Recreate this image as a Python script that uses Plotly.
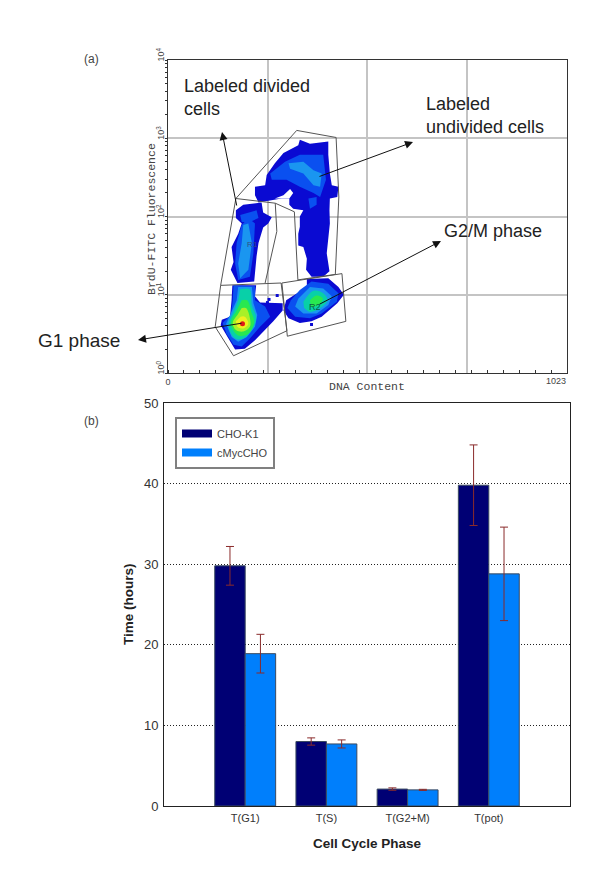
import plotly.graph_objects as go

W, H = 600, 893

# panel (b) values
phases = ["T(G1)", "T(S)", "T(G2+M)", "T(pot)"]
cho_k1 = [29.8, 8.0, 2.1, 39.8]
cho_k1_err = [2.4, 0.45, 0.15, 5.0]
cmyc = [18.9, 7.7, 2.0, 28.8]
cmyc_err = [2.4, 0.5, 0.07, 5.8]

# panel (a) gates: DNA channel, log10 BrdU fluorescence
gate_g1 = ([135, 290, 305, 168, 121, 135], [1.12, 1.15, 0.54, 0.22, 0.59, 1.12])
gate_g2 = ([292, 446, 456, 306, 292], [1.15, 1.27, 0.66, 0.47, 1.15])
gate_div = ([135, 174, 275, 279, 249], [1.12, 2.23, 2.17, 1.81, 1.15])
gate_undiv = ([174, 330, 431, 438, 429, 333, 324, 275],
              [2.23, 3.10, 3.01, 2.25, 1.26, 1.19, 2.06, 2.17])

# panel (a) density contours, from the lowest level up
level1 = [
    ([223, 249, 253, 274, 296, 321, 334, 338, 364, 411, 411, 415, 420, 437, 434, 415, 414, 415, 411, 407, 414, 398, 368, 354, 356, 347, 334, 334, 338, 338, 347, 321, 311, 311, 291, 266, 232, 223],
     [2.38, 2.40, 2.53, 2.68, 2.81, 2.87, 2.91, 2.98, 2.93, 2.96, 2.79, 2.55, 2.40, 2.38, 2.25, 2.23, 2.08, 1.91, 1.70, 1.53, 1.30, 1.23, 1.23, 1.32, 1.46, 1.61, 1.63, 1.78, 1.87, 2.00, 2.08, 2.10, 2.15, 2.23, 2.23, 2.21, 2.18, 2.27]),
    ([174, 193, 240, 244, 266, 257, 244, 232, 227, 221, 178, 161, 168, 163, 180, 189, 174],
     [2.08, 2.15, 2.18, 2.05, 1.99, 1.91, 1.86, 1.66, 1.49, 1.17, 1.15, 1.32, 1.42, 1.61, 1.78, 1.91, 1.98]),
    ([165, 226, 223, 236, 294, 294, 270, 249, 223, 197, 172, 155, 135, 138, 159, 163],
     [1.12, 1.12, 0.98, 0.90, 0.89, 0.80, 0.66, 0.55, 0.42, 0.31, 0.30, 0.44, 0.61, 0.68, 0.72, 0.93]),
    ([356, 411, 437, 451, 434, 394, 368, 338, 309, 296, 303, 330, 356],
     [1.20, 1.21, 1.10, 1.00, 0.89, 0.72, 0.66, 0.64, 0.70, 0.80, 0.93, 1.02, 1.10]),
]
holes = [
    ([274, 296, 313, 321, 311], [2.23, 2.27, 2.35, 2.30, 2.23]),
]
level2 = [
    ([262, 300, 338, 398, 405, 390, 373, 338, 304, 266],
     [2.55, 2.70, 2.79, 2.79, 2.47, 2.25, 2.30, 2.38, 2.47, 2.47]),
    ([189, 206, 223, 219, 210, 180, 172, 176],
     [1.89, 1.98, 1.91, 1.53, 1.23, 1.19, 1.40, 1.66]),
    ([185, 227, 232, 210, 189], [2.02, 2.08, 1.98, 1.93, 1.93]),
    ([168, 223, 223, 249, 262, 236, 210, 189, 168, 150, 140, 161, 166],
     [1.12, 1.11, 0.93, 0.85, 0.72, 0.59, 0.44, 0.34, 0.36, 0.50, 0.64, 0.74, 0.93]),
    ([338, 368, 411, 437, 433, 394, 364, 326, 306, 315],
     [1.06, 1.17, 1.14, 1.02, 0.91, 0.76, 0.70, 0.72, 0.83, 0.93]),
    ([360, 381, 381, 364], [2.23, 2.25, 2.15, 2.10]),
]
level3 = [
    ([309, 347, 373, 394, 390, 373, 347, 313],
     [2.68, 2.70, 2.59, 2.55, 2.38, 2.40, 2.55, 2.61]),
    ([193, 206, 215, 206, 185, 180, 189],
     [1.89, 1.91, 1.66, 1.32, 1.21, 1.40, 1.66]),
    ([180, 215, 219, 229, 223, 202, 180, 163, 149, 163, 176],
     [1.10, 1.10, 0.89, 0.74, 0.59, 0.46, 0.40, 0.46, 0.63, 0.78, 0.93]),
    ([334, 364, 398, 420, 411, 381, 347, 326],
     [0.95, 1.10, 1.08, 0.98, 0.87, 0.76, 0.76, 0.85]),
]
level4 = [
    ([185, 209, 215, 226, 215, 193, 172, 155, 168, 180],
     [1.07, 1.07, 0.87, 0.70, 0.55, 0.44, 0.44, 0.61, 0.78, 0.93]),
    ([347, 373, 398, 409, 390, 364, 349], [0.91, 1.05, 1.02, 0.93, 0.83, 0.78, 0.83]),
]
level5 = [
    ([189, 203, 215, 221, 206, 180, 161, 174], [0.93, 0.93, 0.76, 0.66, 0.50, 0.48, 0.63, 0.78]),
    ([364, 381, 397, 386, 366], [0.93, 0.99, 0.95, 0.87, 0.84]),
]
level6 = [([189, 200, 210, 210, 193, 174, 166, 178], [0.83, 0.83, 0.70, 0.59, 0.53, 0.55, 0.64, 0.74])]
level7 = [([186, 197, 206, 193, 178, 174], [0.72, 0.72, 0.63, 0.57, 0.59, 0.66])]
peak = ([191], [0.63])
specks = ([259, 280, 368, 255], [0.94, 0.99, 0.62, 0.90])

levels = [
    (level1, "#0a0ad2", "linear"), (holes, "white", "linear"), (level2, "#0a50f0", "linear"),
    (level3, "#1a96f0", "linear"), (level4, "#08d0a8", "spline"), (level5, "#28e850", "spline"),
    (level6, "#a8f028", "spline"), (level7, "#f0f020", "spline"),
]


def px(x):
    return x / W


def py(y):
    return 1 - y / H


def dec(vals):
    return [10 ** v for v in vals]


fig = go.Figure()

for polys, color, shape in levels:
    for xs, ys in polys:
        fig.add_trace(go.Scatter(
            x=xs, y=dec(ys), mode="lines", fill="toself", fillcolor=color,
            line=dict(width=0, shape=shape), showlegend=False,
            hoverinfo="skip", xaxis="x", yaxis="y",
        ))

fig.add_trace(go.Scatter(
    x=specks[0], y=dec(specks[1]), mode="markers", showlegend=False, hoverinfo="skip",
    marker=dict(symbol="square", size=3, color="#0a0ad2"), xaxis="x", yaxis="y",
))
fig.add_trace(go.Scatter(
    x=peak[0], y=dec(peak[1]), mode="markers", showlegend=False, hoverinfo="skip",
    marker=dict(size=5, color="#e01818"), xaxis="x", yaxis="y",
))

for xs, ys in [gate_g1, gate_g2, gate_div, gate_undiv]:
    fig.add_trace(go.Scatter(
        x=xs, y=dec(ys), mode="lines", line=dict(color="#555555", width=1),
        showlegend=False, hoverinfo="skip", xaxis="x", yaxis="y",
    ))

for name, vals, errs, color in [("CHO-K1", cho_k1, cho_k1_err, "#000074"),
                                ("cMycCHO", cmyc, cmyc_err, "#007ffc")]:
    fig.add_trace(go.Bar(
        x=phases, y=vals, name=name, xaxis="x2", yaxis="y2", showlegend=False,
        marker=dict(color=color, line=dict(color="#3a4a60", width=1)),
        error_y=dict(type="data", array=errs, color="#8a2b2b", thickness=1, width=4),
    ))
    # wide flat legend swatch
    fig.add_trace(go.Scatter(
        x=[None], y=[None], name=name, mode="lines", xaxis="x2", yaxis="y2",
        line=dict(color=color, width=8),
    ))

fig.update_layout(
    width=W, height=H, margin=dict(l=0, r=0, t=0, b=0),
    paper_bgcolor="white", plot_bgcolor="white",
    font=dict(family="Liberation Sans", color="#333333"),
    barmode="group", bargap=0.25, bargroupgap=0,
    xaxis=dict(
        domain=[px(168), px(567)], range=[0, 1023], anchor="y", automargin=False,
        tickvals=[0, 256, 511, 767, 1023], ticktext=["0", "", "", "", ""],
        tickfont=dict(size=9, color="#444444"),
        ticks="", showgrid=True, gridcolor="#c4c4c4", gridwidth=1.5, zeroline=False,
        showline=True, linecolor="#333333", linewidth=1, mirror=True,
        minor=dict(tickvals=list(range(0, 1023, 41)), ticks="inside", ticklen=3,
                   tickcolor="#333333", showgrid=False),
    ),
    yaxis=dict(
        domain=[py(373), py(60)], type="log", range=[0, 4], anchor="x", automargin=False,
        tickvals=[1, 10, 100, 1000, 10000],
        ticktext=["10<sup>0</sup>", "10<sup>1</sup>", "10<sup>2</sup>", "10<sup>3</sup>", "10<sup>4</sup>"],
        tickangle=-90, tickfont=dict(size=9, color="#444444"), ticklabelshift=-4, ticklabelstandoff=-3,
        ticks="outside", ticklen=2, tickcolor="#333333",
        showgrid=True, gridcolor="#c4c4c4", gridwidth=1.5, zeroline=False,
        showline=True, linecolor="#333333", linewidth=1, mirror=True,
        minor=dict(dtick="D1", ticks="outside", ticklen=2, tickcolor="#333333", showgrid=False),
    ),
    xaxis2=dict(
        domain=[px(164), px(570)], range=[-1, 4], anchor="y2", automargin=False,
        type="category", categoryorder="array", categoryarray=phases,
        tickfont=dict(size=11, color="#333333"),
        ticks="outside", ticklen=2, tickcolor="white", showgrid=False,
        showline=True, linecolor="#222222", linewidth=1, mirror=True,
        title=dict(text="<b>Cell Cycle Phase</b>", font=dict(size=13.5, color="#222222")),
    ),
    yaxis2=dict(
        domain=[py(806), py(403)], range=[0, 50], anchor="x2", dtick=10, automargin=False,
        tickfont=dict(size=13, color="#333333"),
        ticks="outside", ticklen=2, tickcolor="white", zeroline=False,
        showgrid=True, griddash="1px,2px", gridcolor="#222222", gridwidth=1,
        showline=True, linecolor="#222222", linewidth=1, mirror=True,
    ),
    legend=dict(
        x=px(175), y=py(417), xanchor="left", yanchor="top",
        bgcolor="white", bordercolor="#808080", borderwidth=2,
        font=dict(size=11, color="#444444"), itemclick=False, itemdoubleclick=False,
    ),
)

# plain text labels of the figure
notes = [
    ("(a)", 82, 59, 12, "#444444"),
    ("(b)", 82, 421, 12, "#444444"),
    ("Labeled divided<br>cells", 182.5, 97, 18, "#222222"),
    ("Labeled<br>undivided cells", 424, 115, 18, "#222222"),
    ("G2/M phase", 442, 231, 18, "#222222"),
    ("G1 phase", 36, 340, 19, "#222222"),
    ("R2", 307, 307, 9, "#0a5a40"),
    ("R1", 245, 244, 8, "#305080"),
]
for text, x, y, size, color in notes:
    fig.add_annotation(
        text=text, xref="paper", yref="paper", x=px(x), y=py(y), xanchor="left",
        yanchor="middle", align="left", showarrow=False, font=dict(size=size, color=color),
    )

# axis titles and the end tick label of panel (a), placed by hand
mono = dict(family="Liberation Mono", size=11.5, color="#444444")
fig.add_annotation(text="DNA Content", xref="paper", yref="paper", x=px(367), y=py(386),
                   xanchor="center", yanchor="middle", showarrow=False, font=mono)
fig.add_annotation(text="BrdU-FITC Fluorescence", xref="paper", yref="paper", x=px(151), y=py(219),
                   xanchor="center", yanchor="middle", textangle=-90, showarrow=False, font=mono)
fig.add_annotation(text="1023", xref="paper", yref="paper", x=px(568), y=py(381), xanchor="right",
                   yanchor="middle", showarrow=False, font=dict(size=9, color="#444444"))
fig.add_annotation(text="<b>Time (hours)</b>", xref="paper", yref="paper", x=px(128), y=py(604),
                   xanchor="center", yanchor="middle", textangle=-90, showarrow=False,
                   font=dict(size=13.5, color="#222222"))

# arrow tip, then tail offset in pixels
arrows = [(222, 132, 15, 75), (413, 142, -95, 35), (441, 241, -123, 64), (138, 340, 105, -17)]
for x, y, ax, ay in arrows:
    fig.add_annotation(
        text="", xref="paper", yref="paper", x=px(x), y=py(y), ax=ax, ay=ay,
        showarrow=True, arrowhead=2, arrowsize=1.6, arrowwidth=1, arrowcolor="#111111",
    )

fig.write_html("out.html", config={"displayModeBar": False},
               post_script="document.body.style.margin='0';")
